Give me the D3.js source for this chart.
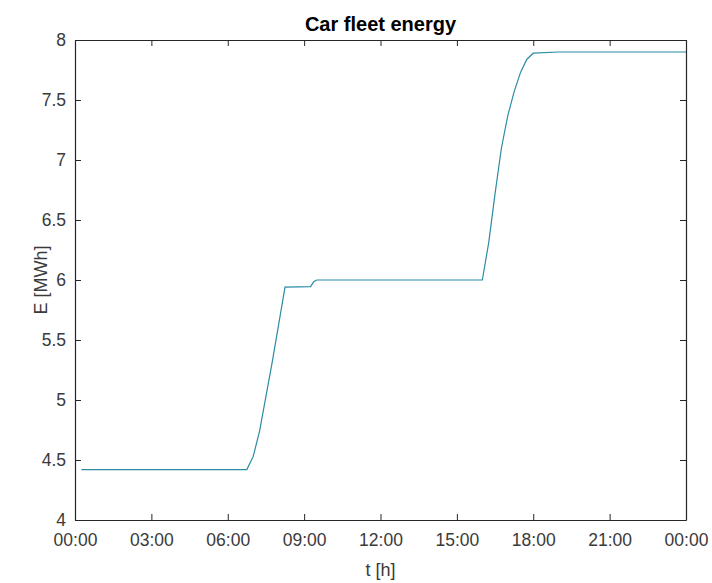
<!DOCTYPE html>
<html>
<head>
<meta charset="utf-8">
<script src="https://cdn.jsdelivr.net/npm/d3@7"></script>
<style>
  html, body { margin: 0; padding: 0; background: #fff; }
  svg { display: block; }
  text { font-family: "Liberation Sans", Arial, Helvetica, sans-serif; }
</style>
</head>
<body>
<svg id="chart" width="712" height="583"></svg>
<script>
// ---- data ----
const title = "Car fleet energy";
const xLabel = "t [h]";
const yLabel = "E [MWh]";
const timeHours = [0.25, 6.75, 7.0, 7.25, 7.5, 7.75, 8.0, 8.25, 9.25, 9.375, 9.5, 16.0, 16.25, 16.5, 16.75, 17.0, 17.25, 17.5, 17.75, 18.0, 19.0, 24.0];
const energyMWh = [4.42, 4.42, 4.53, 4.74, 5.03, 5.32, 5.63, 5.94, 5.945, 5.985, 6.0, 6.0, 6.31, 6.72, 7.10, 7.37, 7.57, 7.73, 7.84, 7.89, 7.90, 7.90];
const xTickValues = [0, 3, 6, 9, 12, 15, 18, 21, 24];
const xTickLabels = ["00:00", "03:00", "06:00", "09:00", "12:00", "15:00", "18:00", "21:00", "00:00"];
const yTickValues = [4, 4.5, 5, 5.5, 6, 6.5, 7, 7.5, 8];
const yTickLabels = ["4", "4.5", "5", "5.5", "6", "6.5", "7", "7.5", "8"];

// ---- layout ----
const margin = { left: 75, right: 26, top: 40, bottom: 63 };
const W = 712, H = 583;
const svg = d3.select("#chart");
const x = d3.scaleLinear().domain([0, 24]).range([margin.left, W - margin.right]);
const y = d3.scaleLinear().domain([4, 8]).range([H - margin.bottom, margin.top]);
const axisColor = "#262626";
const tickLen = 6;

// data line
const pts = timeHours.map((t, i) => [t, energyMWh[i]]);
svg.append("path")
  .datum(pts)
  .attr("fill", "none")
  .attr("stroke", "#2b8ca3")
  .attr("stroke-width", 1.2)
  .attr("d", d3.line().x(d => x(d[0])).y(d => y(d[1])));

// axes (inner ticks, box)
const fmtX = d => xTickLabels[xTickValues.indexOf(d)];
const fmtY = d => yTickLabels[yTickValues.indexOf(d)];

const gB = svg.append("g").attr("transform", `translate(0,${y(4)})`)
  .call(d3.axisBottom(x).tickValues(xTickValues).tickFormat(fmtX).tickSizeInner(-tickLen).tickSizeOuter(0).tickPadding(14));
const gT = svg.append("g").attr("transform", `translate(0,${y(8)})`)
  .call(d3.axisTop(x).tickValues(xTickValues).tickFormat("").tickSizeInner(-tickLen).tickSizeOuter(0));
const gL = svg.append("g").attr("transform", `translate(${x(0)},0)`)
  .call(d3.axisLeft(y).tickValues(yTickValues).tickFormat(fmtY).tickSizeInner(-tickLen).tickSizeOuter(0).tickPadding(9));
const gR = svg.append("g").attr("transform", `translate(${x(24)},0)`)
  .call(d3.axisRight(y).tickValues(yTickValues).tickFormat("").tickSizeInner(-tickLen).tickSizeOuter(0));

[gB, gT, gL, gR].forEach(g => {
  g.select(".domain").attr("stroke", axisColor).attr("stroke-width", 1.2);
  g.selectAll(".tick line").attr("stroke", axisColor).attr("stroke-width", 1);
  g.selectAll(".tick text").attr("fill", "#3a3a3a").style("font-size", "17.5px")
    .style("font-family", '"Liberation Sans", Arial, sans-serif');
});

// title & labels
svg.append("text")
  .attr("x", (x(0) + x(24)) / 2).attr("y", 31)
  .attr("text-anchor", "middle")
  .style("font-size", "20px").style("font-weight", "bold").attr("fill", "#000")
  .text(title);

svg.append("text")
  .attr("x", (x(0) + x(24)) / 2).attr("y", 576)
  .attr("text-anchor", "middle")
  .style("font-size", "18px").attr("fill", "#3a3a3a")
  .text(xLabel);

svg.append("text")
  .attr("transform", `translate(${47},${(y(4) + y(8)) / 2}) rotate(-90)`)
  .attr("text-anchor", "middle")
  .style("font-size", "18px").attr("fill", "#3a3a3a")
  .text(yLabel);
</script>
</body>
</html>
